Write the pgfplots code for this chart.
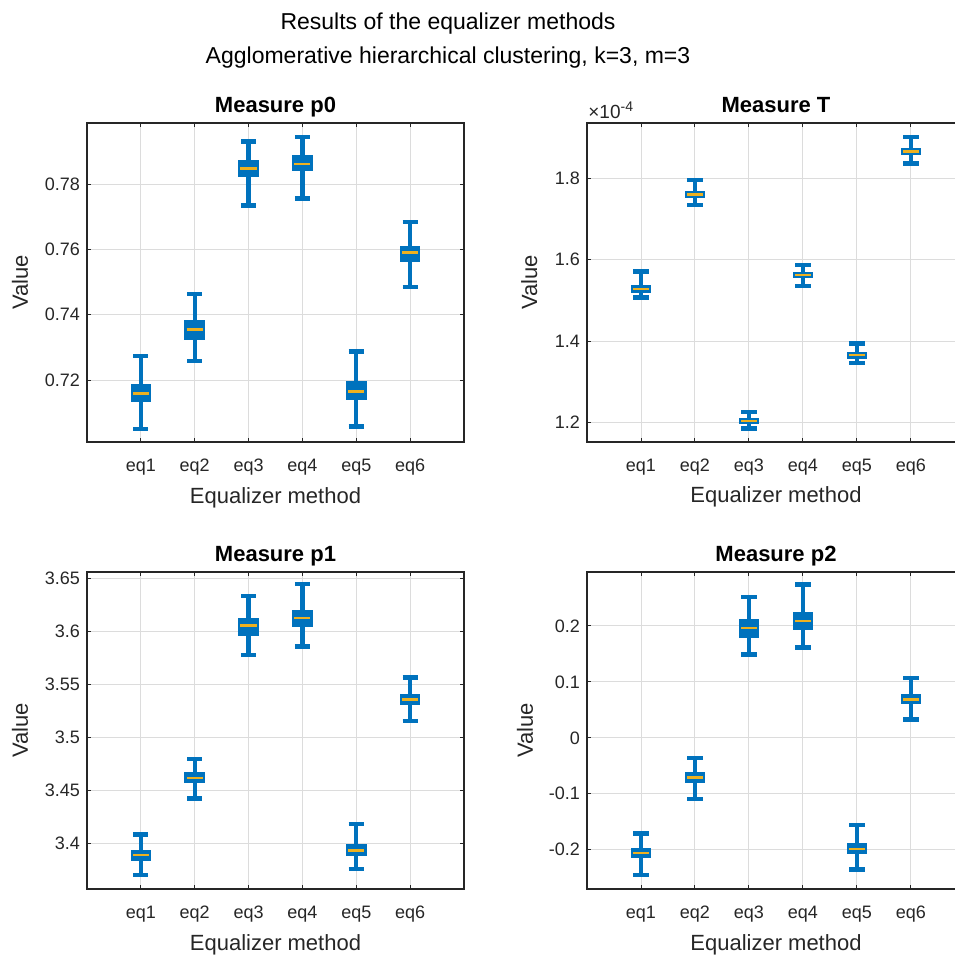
\documentclass[border=0pt]{standalone}
\usepackage{fontspec}
\setmainfont{Liberation Sans}
\usepackage{pgfplots}
\pgfplotsset{compat=1.18}
\usepgfplotslibrary{statistics}
\definecolor{mblue}{RGB}{0,114,189}
\definecolor{myellow}{RGB}{237,177,32}
\definecolor{axgray}{RGB}{38,38,38}
\definecolor{gridgray}{RGB}{220,220,220}

\pgfplotsset{
  mystyle/.style={
    scale only axis,
    width=188.5pt,
    xmin=0, xmax=7,
    xtick={1,2,3,4,5,6},
    xticklabels={eq1,eq2,eq3,eq4,eq5,eq6},
    tick align=inside, xtick pos=both, ytick pos=both,
    major tick length=2pt,
    tick style={axgray, line width=0.5pt},
    axis line style={axgray, line width=0.6pt},
    grid=major,
    major grid style={gridgray, line width=0.5pt},
    ticklabel style={font=\fontsize{9}{10}\selectfont, text=axgray},
    /pgf/number format/assume math mode=true,
    scaled y ticks=false,
    xticklabel style={yshift=-5pt},
    xlabel={Equalizer method},
    ylabel={Value},
    label style={font=\fontsize{11}{12}\selectfont, text=axgray},
    xlabel style={at={(axis description cs:0.5,0)}, anchor=base, yshift=-30.5pt},
    title style={font=\bfseries\fontsize{11}{12}\selectfont, at={(axis description cs:0.5,1)}, anchor=base, yshift=-0.5pt},
    boxplot/draw direction=y,
    boxplot/every median/.style={draw=myellow, line width=1.2pt},
    boxplot/box extend=0.30,
    boxplot/whisker extend=0.28,
  },
  bx/.style={draw=mblue, fill=mblue, line width=2.2pt, solid, mark=none},
}
\newcommand{\bp}[6]{\addplot[bx, boxplot prepared={draw position=#1, lower whisker=#2, lower quartile=#3, median=#4, upper quartile=#5, upper whisker=#6}] coordinates {};}

\begin{document}
\begin{tikzpicture}
\useasboundingbox (0,0) rectangle (477.5pt,-477.5pt);
\clip (0,0) rectangle (477.5pt,-477.5pt);

\node[anchor=base, font=\fontsize{11.5}{12}\selectfont] at (224pt,-14.5pt) {Results of the equalizer methods};
\node[anchor=base, font=\fontsize{11.5}{12}\selectfont] at (224pt,-31.5pt) {Agglomerative hierarchical clustering, k=3, m=3};

% Measure p0
\begin{axis}[mystyle, at={(43.5pt,-61.5pt)}, anchor=north west, height=159.5pt,
  title={Measure p0}, ymin=0.701, ymax=0.7988, ytick={0.72,0.74,0.76,0.78},
  ylabel style={at={(axis description cs:-0.178,0.5)}, anchor=center}]
\bp{1}{0.7050}{0.7138}{0.7159}{0.7182}{0.7274}
\bp{2}{0.7258}{0.7330}{0.7355}{0.7377}{0.7463}
\bp{3}{0.7735}{0.7830}{0.7848}{0.7869}{0.7931}
\bp{4}{0.7756}{0.7847}{0.7862}{0.7883}{0.7945}
\bp{5}{0.7058}{0.7147}{0.7165}{0.7190}{0.7288}
\bp{6}{0.7485}{0.7568}{0.7591}{0.7603}{0.7684}
\end{axis}

% Measure T (values in units of 1e-4)
\begin{axis}[mystyle, at={(293.5pt,-61.5pt)}, anchor=north west, width=189pt, height=159.5pt,
  title={Measure T}, ymin=1.1525, ymax=1.935, ytick={1.2,1.4,1.6,1.8},
  ylabel style={at={(axis description cs:-0.153,0.5)}, anchor=center}]
\bp{1}{1.5074}{1.5245}{1.5279}{1.5313}{1.5705}
\bp{2}{1.7344}{1.7565}{1.7598}{1.7631}{1.7959}
\bp{3}{1.1852}{1.2011}{1.2041}{1.2071}{1.2254}
\bp{4}{1.5352}{1.5593}{1.5623}{1.5653}{1.5869}
\bp{5}{1.3467}{1.3626}{1.3656}{1.3686}{1.3943}
\bp{6}{1.8352}{1.8626}{1.8656}{1.8686}{1.9000}
\end{axis}
\node[anchor=base west, text=axgray, font=\fontsize{9.5}{10}\selectfont, inner sep=0pt] at (294pt,-59pt) {×10\raisebox{0.6ex}{\fontsize{7}{7}\selectfont -4}};

% Measure p1
\begin{axis}[mystyle, at={(43.5pt,-286pt)}, anchor=north west, height=158.5pt,
  title={Measure p1}, ymin=3.3569, ymax=3.6563, ytick={3.4,3.45,3.5,3.55,3.6,3.65},
  ylabel style={at={(axis description cs:-0.178,0.5)}, anchor=center}]
\bp{1}{3.3701}{3.3858}{3.3890}{3.3919}{3.4085}
\bp{2}{3.4424}{3.4590}{3.4619}{3.4652}{3.4796}
\bp{3}{3.5780}{3.5980}{3.6057}{3.6108}{3.6337}
\bp{4}{3.5858}{3.6065}{3.6129}{3.6186}{3.6447}
\bp{5}{3.3758}{3.3905}{3.3931}{3.3969}{3.4182}
\bp{6}{3.5157}{3.5329}{3.5358}{3.5387}{3.5566}
\end{axis}

% Measure p2
\begin{axis}[mystyle, at={(293.5pt,-286pt)}, anchor=north west, width=189pt, height=158.5pt,
  title={Measure p2}, ymin=-0.2702, ymax=0.2964, ytick={-0.2,-0.1,0,0.1,0.2},
  ylabel style={at={(axis description cs:-0.164,0.5)}, anchor=center}]
\bp{1}{-0.2452}{-0.2101}{-0.2054}{-0.2012}{-0.1708}
\bp{2}{-0.1095}{-0.0762}{-0.0708}{-0.0655}{-0.0363}
\bp{3}{0.1488}{0.1828}{0.1958}{0.2089}{0.2518}
\bp{4}{0.1613}{0.1971}{0.2089}{0.2208}{0.2744}
\bp{5}{-0.2351}{-0.2041}{-0.1982}{-0.1923}{-0.1560}
\bp{6}{0.0327}{0.0637}{0.0685}{0.0744}{0.1071}
\end{axis}
\end{tikzpicture}
\end{document}
